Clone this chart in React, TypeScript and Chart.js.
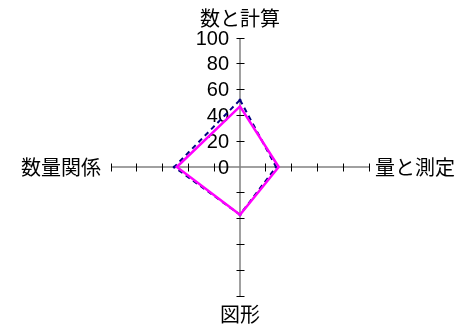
import React, { useEffect, useRef } from "react";
import { Chart, registerables } from "chart.js";

Chart.register(...registerables);

const categories = ["数と計算", "量と測定", "図形", "数量関係"];
const seriesMagenta = [47, 30, 37, 49];
const seriesNavy = [52, 28, 37, 51];
const axisMin = 0;
const axisMax = 100;
const axisStep = 20;
const labelPadding = [8, 6, 6, 10];

const axisTickPlugin = {
  id: "axisTicks",
  beforeDatasetsDraw(chart: any) {
    const scale = chart.scales.r;
    const ctx = chart.ctx;
    const n = chart.data.labels.length;
    ctx.save();
    ctx.strokeStyle = "#000000";
    ctx.lineWidth = 1;
    for (let i = 0; i < n; i++) {
      for (const t of scale.ticks) {
        if (t.value === axisMin) continue;
        const p = scale.getPointPositionForValue(i, t.value);
        const a = p.angle;
        const px = -Math.sin(a);
        const py = Math.cos(a);
        const snap = (v: number) => Math.round(v - 0.5) + 0.5;
        ctx.beginPath();
        ctx.moveTo(snap(p.x - 4 * px), snap(p.y - 4 * py));
        ctx.lineTo(snap(p.x + 4 * px), snap(p.y + 4 * py));
        ctx.stroke();
      }
    }
    ctx.fillStyle = "#000000";
    ctx.font = "20px 'Liberation Sans', Arial, sans-serif";
    ctx.textAlign = "right";
    ctx.textBaseline = "middle";
    for (const t of scale.ticks) {
      const p = scale.getPointPositionForValue(0, t.value);
      ctx.fillText(String(t.label), p.x - 11, p.y + 1);
    }
    ctx.restore();
  },
};

export default function App() {
  const ref = useRef<HTMLCanvasElement | null>(null);
  useEffect(() => {
    if (!ref.current) return;
    const chart = new Chart(ref.current, {
      type: "radar",
      data: {
        labels: categories,
        datasets: [
          {
            label: "B",
            data: seriesMagenta,
            borderColor: "#FF00FF",
            backgroundColor: "rgba(0,0,0,0)",
            borderWidth: 2.5,
            fill: false,
            pointRadius: 0,
            tension: 0,
          },
          {
            label: "A",
            data: seriesNavy,
            borderColor: "#000080",
            backgroundColor: "#000080",
            borderWidth: 2,
            borderDash: [5, 4],
            fill: false,
            pointRadius: 1.5,
            pointBorderWidth: 0,
            tension: 0,
          },
        ],
      },
      options: {
        animation: false,
        responsive: false,
        maintainAspectRatio: false,
        layout: { padding: { left: 10, right: 0, top: 5, bottom: 2 } },
        plugins: {
          legend: { display: false },
          tooltip: { enabled: false },
        },
        scales: {
          r: {
            min: axisMin,
            max: axisMax,
            ticks: { stepSize: axisStep, display: false },
            grid: { display: false },
            angleLines: { display: true, color: "#808080", lineWidth: 1.5 },
            pointLabels: {
              display: true,
              color: "#000000",
              font: { family: "'Noto Sans CJK JP', sans-serif", size: 20 },
              padding: (c: any) => labelPadding[c.index],
            },
          },
        },
      },
      plugins: [axisTickPlugin],
    } as any);
    return () => chart.destroy();
  }, []);
  return (
    <div style={{ position: "absolute", left: 0, top: 0, width: 466, height: 329, background: "#fff" }}>
      <canvas ref={ref} width={466} height={329} />
    </div>
  );
}
